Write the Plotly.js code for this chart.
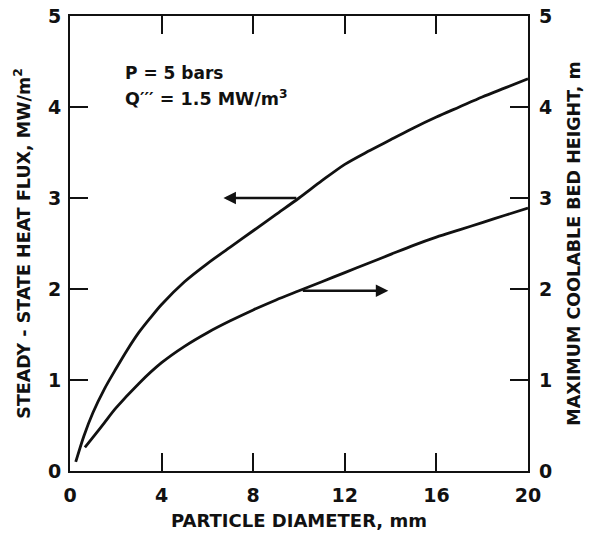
<!DOCTYPE html>
<html>
<head>
<meta charset="utf-8">
<script src="https://cdn.plot.ly/plotly-3.0.1.min.js"></script>
<style>html,body{margin:0;padding:0;background:#fff;}#chart{width:597px;height:541px;}</style>
</head>
<body>
<div id="chart"></div>
<script>
// Steady-state heat flux (left axis, MW/m^2) vs particle diameter (mm)
const fluxX = [0.25, 0.6, 1, 1.5, 2, 2.5, 3, 3.5, 4, 5, 6, 7, 8, 9, 10, 11, 12, 13, 14, 15, 16, 17, 18, 19, 20];
const fluxY = [0.10, 0.38, 0.64, 0.90, 1.12, 1.33, 1.52, 1.68, 1.83, 2.08, 2.28, 2.46, 2.64, 2.82, 3.00, 3.19, 3.37, 3.51, 3.64, 3.77, 3.89, 4.00, 4.11, 4.21, 4.31];
// Maximum coolable bed height (right axis, m) vs particle diameter (mm)
const heightX = [0.65, 1, 1.5, 2, 3, 4, 5, 6, 7, 8, 9, 10, 11, 12, 13, 14, 15, 16, 17, 18, 19, 20];
const heightY = [0.26, 0.37, 0.53, 0.69, 0.96, 1.19, 1.37, 1.52, 1.65, 1.77, 1.88, 1.98, 2.08, 2.18, 2.28, 2.38, 2.48, 2.57, 2.65, 2.73, 2.81, 2.89];
const xTicks = [0, 4, 8, 12, 16, 20];
const yTicks = [0, 1, 2, 3, 4, 5];
const xTitle = "PARTICLE DIAMETER, mm";
const yTitle = "STEADY - STATE HEAT FLUX, MW/m<sup>2</sup>";
const y2Title = "MAXIMUM COOLABLE BED HEIGHT, m";
const note1 = "P = 5 bars";
const note2 = "Q′′′ = 1.5 MW/m<sup>3</sup>";
// arrows: [tailX, headX, y]
const arrowFlux = [9.95, 6.7, 3.0];
const arrowHeight = [10.1, 13.9, 1.98];

const FONT = "DejaVu Sans, Liberation Sans, sans-serif";
const ink = "#111";

const traces = [
  {x: fluxX, y: fluxY, type: "scatter", mode: "lines", line: {color: ink, width: 2.8, shape: "spline", smoothing: 0.8}, yaxis: "y", hoverinfo: "skip"},
  {x: heightX, y: heightY, type: "scatter", mode: "lines", line: {color: ink, width: 2.8, shape: "spline", smoothing: 0.8}, yaxis: "y2", hoverinfo: "skip"}
];

const axisCommon = {
  showgrid: false, zeroline: false, showline: true, linecolor: ink, linewidth: 2,
  ticks: "inside", ticklen: 18, tickwidth: 2, tickcolor: ink,
  tickfont: {family: FONT, size: 19, color: ink, weight: "bold"}
};

const layout = {
  width: 597, height: 541,
  margin: {l: 70, r: 69, t: 16, b: 70},
  paper_bgcolor: "#fff", plot_bgcolor: "#fff",
  showlegend: false,
  xaxis: Object.assign({}, axisCommon, {
    range: [0, 20], tickvals: xTicks, ticktext: xTicks.map(String), mirror: "ticks",
    ticklabelstandoff: 6,
    title: {text: xTitle, font: {family: FONT, size: 18, color: ink, weight: "bold"}, standoff: 10}
  }),
  yaxis: Object.assign({}, axisCommon, {
    range: [0, 5], tickvals: yTicks, ticktext: yTicks.map(String), mirror: "ticks",
    ticklabelstandoff: 3,
    title: {text: yTitle, font: {family: FONT, size: 17.5, color: ink, weight: "bold"}, standoff: 13}
  }),
  yaxis2: Object.assign({}, axisCommon, {
    range: [0, 5], tickvals: yTicks, ticktext: yTicks.map(String), overlaying: "y", side: "right",
    ticks: "", showline: false, ticklabelstandoff: 10,
    title: {text: y2Title, font: {family: FONT, size: 17.5, color: ink, weight: "bold"}, standoff: 16}
  }),
  annotations: [
    {x: 2.3, y: 4.37, xref: "x", yref: "y", text: note1, showarrow: false, xanchor: "left", yanchor: "middle",
     font: {family: FONT, size: 17, color: ink, weight: "bold"}},
    {x: 2.3, y: 4.10, xref: "x", yref: "y", text: note2, showarrow: false, xanchor: "left", yanchor: "middle",
     font: {family: FONT, size: 17.5, color: ink, weight: "bold"}},
    {x: arrowFlux[1], y: arrowFlux[2], ax: arrowFlux[0], ay: arrowFlux[2], xref: "x", yref: "y", axref: "x", ayref: "y",
     text: "", showarrow: true, arrowhead: 2, arrowsize: 1, arrowwidth: 2.5, arrowcolor: ink},
    {x: arrowHeight[1], y: arrowHeight[2], ax: arrowHeight[0], ay: arrowHeight[2], xref: "x", yref: "y", axref: "x", ayref: "y",
     text: "", showarrow: true, arrowhead: 2, arrowsize: 1, arrowwidth: 2.5, arrowcolor: ink}
  ]
};

Plotly.newPlot("chart", traces, layout, {staticPlot: true, displayModeBar: false});
</script>
</body>
</html>
